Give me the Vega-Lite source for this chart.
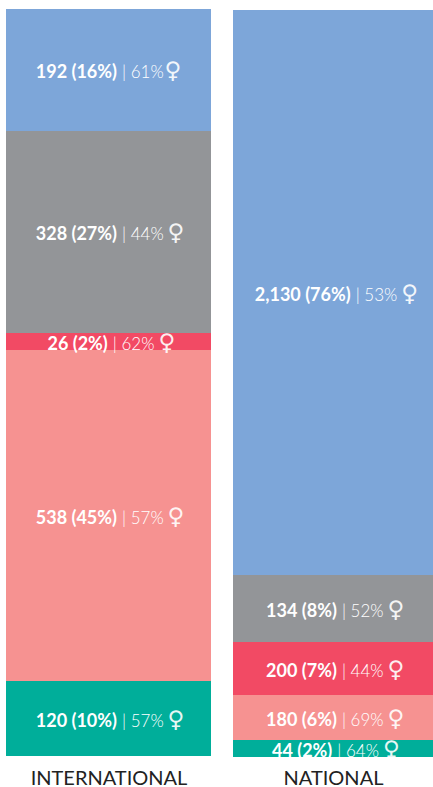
{"$schema":"https://vega.github.io/schema/vega-lite/v6.json","padding":{"left":6,"top":9,"right":0,"bottom":0},"background":"white","spacing":22,"config":{"view":{"stroke":null}},
"datasets":{"rows":[
{"panel":"INTERNATIONAL","order":1,"category":"A","count_label":"192 (16%)","female":"61%","h":122},
{"panel":"INTERNATIONAL","order":2,"category":"B","count_label":"328 (27%)","female":"44%","h":202},
{"panel":"INTERNATIONAL","order":3,"category":"C","count_label":"26 (2%)","female":"62%","h":17},
{"panel":"INTERNATIONAL","order":4,"category":"D","count_label":"538 (45%)","female":"57%","h":331},
{"panel":"INTERNATIONAL","order":5,"category":"E","count_label":"120 (10%)","female":"57%","h":75},
{"panel":"NATIONAL","order":1,"category":"A","count_label":"2,130 (76%)","female":"53%","h":565},
{"panel":"NATIONAL","order":2,"category":"B","count_label":"134 (8%)","female":"52%","h":67},
{"panel":"NATIONAL","order":3,"category":"C","count_label":"200 (7%)","female":"44%","h":53},
{"panel":"NATIONAL","order":4,"category":"D","count_label":"180 (6%)","female":"69%","h":45},
{"panel":"NATIONAL","order":5,"category":"E","count_label":"44 (2%)","female":"64%","h":17}
]},
"hconcat":[
{"width":205,"height":748,"data":{"name":"rows"},
"transform":[{"filter":"datum.panel==='INTERNATIONAL'"},{"stack":"h","groupby":["panel"],"sort":[{"field":"order"}],"as":["y0","y1"]},{"calculate":"(datum.y0+datum.y1)/2","as":"mid"},{"calculate":"102.5+14.5+4.6*(length(datum.count_label)-9)","as":"j"},{"calculate":"datum.j-6","as":"jb"},{"calculate":"datum.j+53-(indexof(datum.female,'1')>=0?3:0)","as":"js"}],
"encoding":{"y":{"field":"mid","type":"quantitative","scale":{"domain":[0,748],"reverse":true,"nice":false,"zero":false},"axis":null}},
"layer":[
{"mark":{"type":"rect"},"encoding":{"x":{"datum":0,"type":"quantitative","scale":{"domain":[0,205],"nice":false},"axis":{"domain":false,"ticks":false,"labels":false,"grid":false,"title":"INTERNATIONAL","titleFont":"Lato","titleFontSize":20,"titleFontWeight":"normal","titleColor":"#222222","titlePadding":11}},"x2":{"datum":205},"y":{"field":"y0","type":"quantitative"},"y2":{"field":"y1"},"color":{"field":"category","type":"nominal","legend":null,"scale":{"domain":["A","B","C","D","E"],"range":["#7DA6D9","#939598","#F24A64","#F69291","#00AE9A"]}}}},
{"mark":{"type":"text","align":"right","baseline":"middle","dy":3,"font":"Lato","fontWeight":"bold","fontSize":18,"color":"white","clip":true},"encoding":{"x":{"field":"jb","type":"quantitative"},"text":{"field":"count_label"}}},
{"mark":{"type":"text","align":"left","baseline":"middle","dy":3,"dx":-1,"font":"Lato","fontWeight":300,"fontSize":17,"color":"white","clip":true},"encoding":{"x":{"field":"j","type":"quantitative"},"text":{"field":"female","type":"nominal"}},"transform":[{"calculate":"'| '+datum.female","as":"female"}]},
{"mark":{"type":"text","align":"center","baseline":"middle","dy":1,"font":"DejaVu Sans","fontSize":23,"color":"white","opacity":0.9,"clip":true},"encoding":{"x":{"field":"js","type":"quantitative"},"text":{"value":"♀"}}}
]},
{"width":200,"height":748,"data":{"name":"rows"},
"transform":[{"filter":"datum.panel==='NATIONAL'"},{"stack":"h","groupby":["panel"],"sort":[{"field":"order"}],"as":["y0","y1"]},{"calculate":"(datum.y0+datum.y1)/2","as":"mid"},{"calculate":"100+14.5+4.6*(length(datum.count_label)-9)","as":"j"},{"calculate":"datum.j-6","as":"jb"},{"calculate":"datum.j+53-(indexof(datum.female,'1')>=0?3:0)","as":"js"}],
"encoding":{"y":{"field":"mid","type":"quantitative","scale":{"domain":[-1,747],"reverse":true,"nice":false,"zero":false},"axis":null}},
"layer":[
{"mark":{"type":"rect"},"encoding":{"x":{"datum":0,"type":"quantitative","scale":{"domain":[0,200],"nice":false},"axis":{"domain":false,"ticks":false,"labels":false,"grid":false,"title":"NATIONAL","titleFont":"Lato","titleFontSize":20,"titleFontWeight":"normal","titleColor":"#222222","titlePadding":11}},"x2":{"datum":200},"y":{"field":"y0","type":"quantitative"},"y2":{"field":"y1"},"color":{"field":"category","type":"nominal","legend":null,"scale":{"domain":["A","B","C","D","E"],"range":["#7DA6D9","#939598","#F24A64","#F69291","#00AE9A"]}}}},
{"mark":{"type":"text","align":"right","baseline":"middle","dy":3,"font":"Lato","fontWeight":"bold","fontSize":18,"color":"white","clip":true},"encoding":{"x":{"field":"jb","type":"quantitative"},"text":{"field":"count_label"}}},
{"mark":{"type":"text","align":"left","baseline":"middle","dy":3,"dx":-1,"font":"Lato","fontWeight":300,"fontSize":17,"color":"white","clip":true},"encoding":{"x":{"field":"j","type":"quantitative"},"text":{"field":"female","type":"nominal"}},"transform":[{"calculate":"'| '+datum.female","as":"female"}]},
{"mark":{"type":"text","align":"center","baseline":"middle","dy":1,"font":"DejaVu Sans","fontSize":23,"color":"white","opacity":0.9,"clip":true},"encoding":{"x":{"field":"js","type":"quantitative"},"text":{"value":"♀"}}}
]}
]}
